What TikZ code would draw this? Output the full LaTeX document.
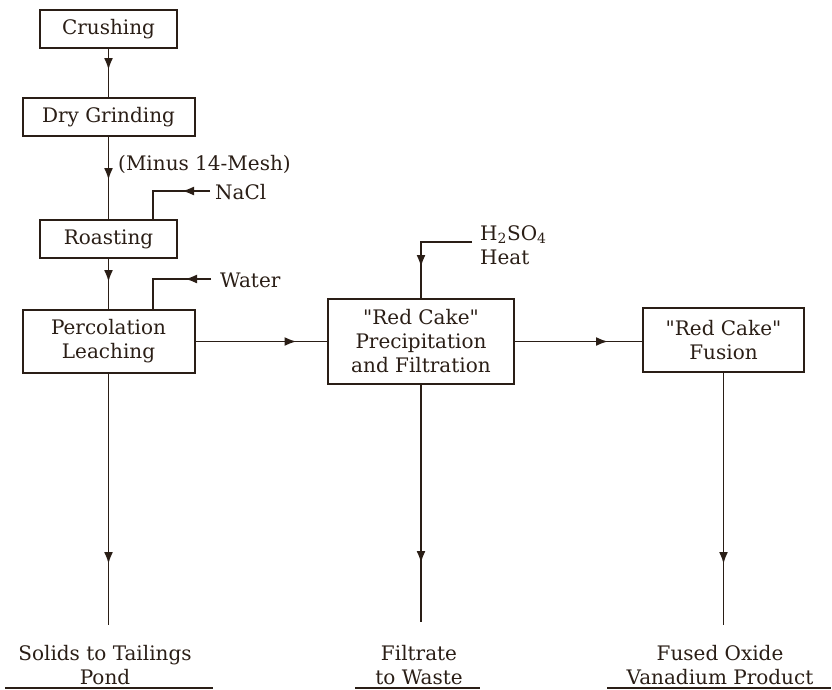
\documentclass[tikz,border=0pt]{standalone}
\usepackage{fontspec}
\setmainfont{DejaVu Serif}
\usetikzlibrary{arrows.meta,decorations.markings}
\definecolor{ink}{HTML}{2A1E16}
\tikzset{
  box/.style={draw=ink, line width=2pt, inner sep=0pt, align=center,
              text=ink, font=\fontsize{20}{24}\selectfont},
  lbl/.style={inner sep=0pt, text=ink, font=\fontsize{20}{24}\selectfont},
  flow/.style={draw=ink, line width=1.9pt},
  flowmark/.style={postaction={decorate}, decoration={markings,
      mark=at position #1 with {\arrow[ink]{Latex[length=12pt,width=9pt]}}}},
  underl/.style={draw=ink, line width=2.6pt}
}
\begin{document}
\begin{tikzpicture}[x=1pt, y=-1pt]
\useasboundingbox (0,0) rectangle (832,689);

% process boxes
\node[box, minimum width=137pt, minimum height=38pt] (crush) at (108.5,29) {Crushing};
\node[box, minimum width=172pt, minimum height=38pt] (grind) at (108.5,117) {Dry Grinding};
\node[box, minimum width=137pt, minimum height=38pt] (roast) at (108.5,239) {Roasting};
\node[box, minimum width=172pt, minimum height=63pt] (perc) at (108.5,341.5) {Percolation\\Leaching};
\node[box, minimum width=186pt, minimum height=85pt] (redcake) at (421,341.5)
  {\textquotedbl Red Cake\textquotedbl\\Precipitation\\and Filtration};
\node[box, minimum width=161pt, minimum height=64pt] (fusion) at (723.5,340)
  {\textquotedbl Red Cake\textquotedbl\\Fusion};

% feed labels
\node[lbl, anchor=west] (mesh) at (118,164) {(Minus 14-Mesh)};
\node[lbl, anchor=west] (nacl) at (215,192) {NaCl};
\node[lbl, anchor=west] (water) at (220,280) {Water};
\node[lbl, anchor=west, align=left] (acid) at (480,245) {H\textsubscript{2}SO\textsubscript{4}\\Heat};

% feed entry points
\coordinate (naclin) at (210,191);
\coordinate (waterin) at (211,279);
\coordinate (acidin) at (472,242);
\coordinate (sidex) at (153,0);

% outlet ends
\coordinate (pondend) at (108.5,625);
\coordinate (wasteend) at (421,622);
\coordinate (prodend) at (723.5,625);

% main flow
\draw[flow, flowmark=21pt] (crush.south) -- (grind.north);
\draw[flow, flowmark=43pt] (grind.south) -- (roast.north);
\draw[flow, flowmark=23pt] (roast.south) -- (perc.north);
\draw[flow, flowmark=28pt] (naclin) -| (sidex |- roast.north);
\draw[flow, flowmark=26pt] (waterin) -| (sidex |- perc.north);
\draw[flow, flowmark=101pt] (perc.east) -- (redcake.west);
\draw[flow, flowmark=76pt] (acidin) -| (redcake.north);
\draw[flow, flowmark=93pt] (redcake.east) -- (redcake.east -| fusion.west);
\draw[flow, flowmark=190pt] (perc.south) -- (pondend);
\draw[flow, flowmark=178pt] (redcake.south) -- (wasteend);
\draw[flow, flowmark=191pt] (fusion.south) -- (prodend);

% products
\node[lbl, align=center] (pond) at (105,665.5) {Solids to Tailings\\Pond};
\node[lbl, align=center] (waste) at (419,665.5) {Filtrate\\to Waste};
\node[lbl, align=center] (product) at (720,665.5) {Fused Oxide\\Vanadium Product};
\draw[underl] (5,688) -- (213,688);
\draw[underl] (355,688) -- (480,688);
\draw[underl] (607,688) -- (831,688);
\end{tikzpicture}
\end{document}
